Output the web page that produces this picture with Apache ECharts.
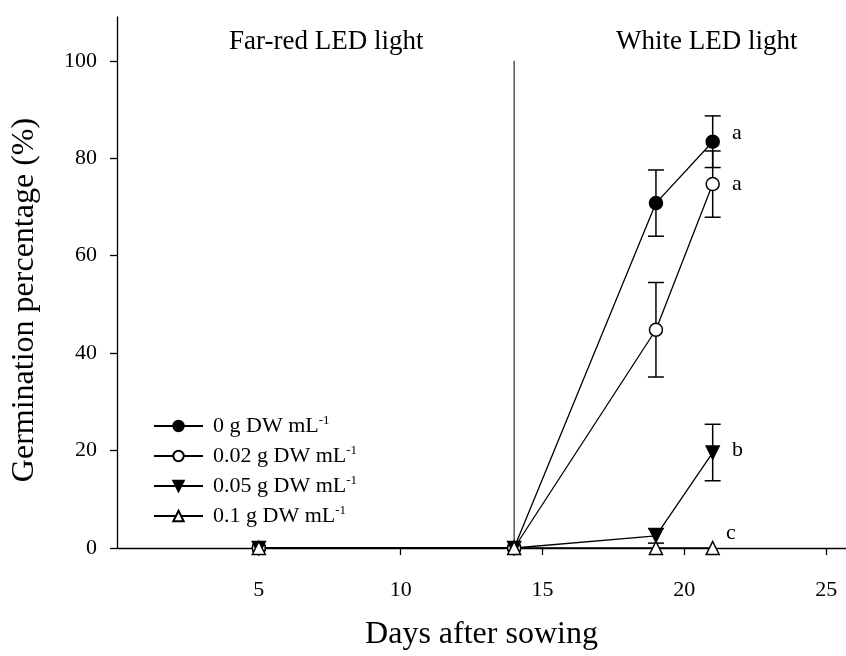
<!DOCTYPE html>
<html>
<head>
<meta charset="utf-8">
<script src="https://cdn.jsdelivr.net/npm/echarts@6/dist/echarts.min.js"></script>
<style>
  html, body { margin: 0; padding: 0; background: #fff; }
  #chart { width: 846px; height: 656px; }
</style>
</head>
<body>
<div id="chart"></div>
<script>
// Sampling days
const days = [5, 14, 19, 21];

// Germination percentage (%) and error for each extract concentration
const names = ['0 g DW mL', '0.02 g DW mL', '0.05 g DW mL', '0.1 g DW mL'];
const g0 = [0, 0, 70.8, 83.4];
const g0Err = [0, 0, 6.8, 5.3];
const g002 = [0, 0, 44.8, 74.7];
const g002Err = [0, 0, 9.7, 6.8];
const g005 = [0, 0, 2.5, 19.6];
const g005Err = [0, 0, 1.5, 5.8];
const g01 = [0, 0, 0, 0];
const g01Err = [0, 0, 0, 0];

// Significance letters at day 21
const letters = ['a', 'a', 'b', 'c'];

// Axis ticks
const xTicks = [5, 10, 15, 20, 25];
const yTicks = [0, 20, 40, 60, 80, 100];

// Light switch: far-red -> white at day 14
const switchDay = 14;
const switchTop = 100;

const FONT = 'Liberation Serif';

const values = [g0, g002, g005, g01];
const errors = [g0Err, g002Err, g005Err, g01Err];

const symbols = ['circle', 'circle', 'path://M0,0L20,0L10,17Z', 'triangle'];
const fills = ['#000', '#fff', '#000', '#fff'];
const letterOffsets = [[0, -8], [0, 0], [0, -2], [-6, -15]];

const lineSeries = values.map((vals, s) => ({
  name: names[s],
  type: 'line',
  z: 3,
  symbol: symbols[s],
  symbolSize: 13,
  showAllSymbol: true,
  lineStyle: { color: '#000', width: 1.3 },
  itemStyle: { color: fills[s], borderColor: '#000', borderWidth: 1.5 },
  emphasis: { disabled: true },
  data: days.map((d, i) => {
    const item = { value: [d, vals[i]] };
    if (i === days.length - 1) {
      item.label = {
        show: true,
        position: 'right',
        distance: 12,
        offset: letterOffsets[s],
        formatter: letters[s],
        fontFamily: FONT,
        fontSize: 22,
        color: '#000'
      };
    }
    return item;
  })
}));

// Error bars with caps
const errData = [];
values.forEach((vals, s) => {
  days.forEach((d, i) => {
    if (errors[s][i] > 0) errData.push([d, vals[i] - errors[s][i], vals[i] + errors[s][i]]);
  });
});

const errSeries = {
  type: 'custom',
  z: 2,
  silent: true,
  data: errData,
  renderItem: function (params, api) {
    const x = api.value(0);
    const lo = api.coord([x, api.value(1)]);
    const hi = api.coord([x, api.value(2)]);
    const hw = 8;
    const st = { stroke: '#000', lineWidth: 1.5 };
    return {
      type: 'group',
      children: [
        { type: 'line', shape: { x1: lo[0], y1: lo[1], x2: hi[0], y2: hi[1] }, style: st },
        { type: 'line', shape: { x1: lo[0] - hw, y1: lo[1], x2: lo[0] + hw, y2: lo[1] }, style: st },
        { type: 'line', shape: { x1: hi[0] - hw, y1: hi[1], x2: hi[0] + hw, y2: hi[1] }, style: st }
      ]
    };
  }
};

// Vertical divider between the two light phases
const dividerSeries = {
  type: 'line',
  z: 1,
  silent: true,
  symbol: 'none',
  lineStyle: { color: '#000', width: 1 },
  data: [[switchDay, 0], [switchDay, switchTop]]
};

const chart = echarts.init(document.getElementById('chart'), null, { renderer: 'canvas' });

chart.setOption({
  animation: false,
  backgroundColor: '#fff',
  textStyle: { fontFamily: FONT, color: '#000' },
  graphic: [
    {
      type: 'text', left: 229, top: 28,
      style: { text: 'Far-red LED light', fontFamily: FONT, fontSize: 27, fill: '#000' }
    },
    {
      type: 'text', left: 616, top: 28,
      style: { text: 'White LED light', fontFamily: FONT, fontSize: 27, fill: '#000' }
    }
  ],
  legend: {
    orient: 'vertical',
    left: 148,
    top: 409,
    itemWidth: 49,
    itemHeight: 13,
    itemGap: 7,
    data: names,
    formatter: function (n) { return '{t|' + n + '}{s|-1}'; },
    textStyle: {
      fontFamily: FONT,
      color: '#000',
      rich: {
        t: { fontFamily: FONT, fontSize: 22, lineHeight: 24, color: '#000', padding: [0, 0, 0, 5] },
        s: { fontFamily: FONT, fontSize: 13, color: '#000', verticalAlign: 'top', padding: [0, 0, 10, 0] }
      }
    }
  },
  grid: { left: 117, right: 0, top: 17, bottom: 108, containLabel: false },
  xAxis: {
    type: 'value',
    min: 0,
    max: 25.7,
    name: 'Days after sowing',
    nameLocation: 'middle',
    nameGap: 71,
    nameTextStyle: { fontFamily: FONT, fontSize: 32, color: '#000' },
    axisLine: { lineStyle: { color: '#000', width: 1.3 } },
    axisTick: { show: true, inside: false, length: 7, customValues: xTicks, lineStyle: { color: '#000', width: 1.3 } },
    axisLabel: { customValues: xTicks, margin: 31, fontFamily: FONT, fontSize: 22, color: '#000' },
    splitLine: { show: false }
  },
  yAxis: {
    type: 'value',
    min: 0,
    max: 109,
    name: 'Germination percentage (%)',
    nameLocation: 'middle',
    nameGap: 76,
    nameTextStyle: { fontFamily: FONT, fontSize: 32, color: '#000', padding: [0, 35, 0, 0] },
    axisLine: { show: true, lineStyle: { color: '#000', width: 1.3 } },
    axisTick: { show: true, inside: false, length: 7, customValues: yTicks, lineStyle: { color: '#000', width: 1.3 } },
    axisLabel: { customValues: yTicks, margin: 20, fontFamily: FONT, fontSize: 22, color: '#000' },
    splitLine: { show: false }
  },
  series: [dividerSeries, errSeries].concat(lineSeries)
});
</script>
</body>
</html>
